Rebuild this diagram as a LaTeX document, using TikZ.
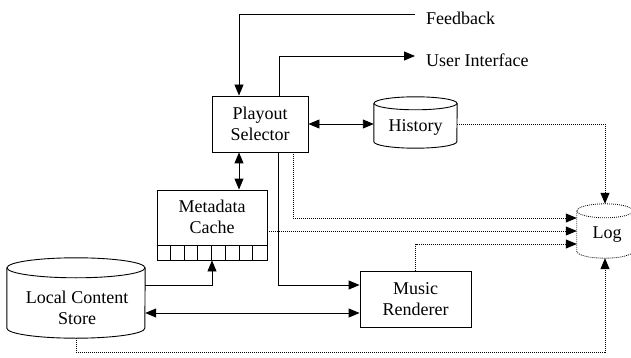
\documentclass[tikz,border=0pt]{standalone}
\usepackage{fontspec}
\setmainfont{Liberation Serif}
\newfontfamily\labelfont{Liberation Serif}
\usetikzlibrary{arrows.meta,calc}

% drum outline around a frame node: #1 options, #2 node, #3 x radius, #4 y radius
\newcommand{\drum}[4][]{%
  \draw[#1] ($(#2.north west)+(0,#4)$) -- ($(#2.south west)-(0,#4)$)
     arc[start angle=180,end angle=0,x radius=#3,y radius=#4]
     -- ($(#2.north east)+(0,#4)$);
  \draw[#1] ($(#2.north)+(0,#4)$) ellipse[x radius=#3,y radius=#4];
}

\begin{document}
\begin{tikzpicture}[x=1pt,y=-1pt,
  every node/.style={font=\labelfont\fontsize{18}{21}\selectfont, align=center, inner sep=0pt},
  solidline/.style={line width=0.9pt},
  dotline/.style={line width=0.8pt, dash pattern=on 0.9pt off 1.1pt},
  arr/.style={-{Triangle[length=11pt,width=9pt]}},
  darr/.style={{Triangle[length=11pt,width=9pt]}-{Triangle[length=11pt,width=9pt]}}]
\useasboundingbox (0,0) rectangle (631,358);

% blocks
\node[draw, solidline, minimum width=96, minimum height=56] (ps) at (260,124) {Playout\\Selector};
\node[draw, solidline, minimum width=110, minimum height=70] (mc) at (212,225) {};
\node (mctxt) at (212,217) {Metadata\\Cache};
\node[draw, solidline, minimum width=111, minimum height=56] (mr) at (415.5,299) {Music\\Renderer};

% stores
\node[minimum width=83, minimum height=51] (hist) at (415.5,122.5) {};
\node (histtxt) at (415.5,127) {History};
\node[minimum width=138, minimum height=80] (lcs) at (76,298) {};
\node (lcstxt) at (77,308) {Local Content\\Store};
\node[minimum width=56, minimum height=54] (log) at (605,231) {};
\node (logtxt) at (607,235) {Log};

\drum[solidline]{hist}{41.5}{6.5}
\drum[solidline]{lcs}{69}{10}
\drum[dotline]{log}{28}{7}

% cache slots
\draw[solidline] ($(mc.south west)+(0,-15)$) -- ($(mc.south east)+(0,-15)$);
\foreach \i in {1,...,7}
  \draw[solidline] ($(mc.south west)+(\i*13.75,0)$) -- ++(0,-15);

% attachment points
\coordinate (fbend) at (415,14);
\coordinate (uiend) at (415,56);
\coordinate (bot) at (0,352);
\coordinate (psfb) at ($(ps.north)+(-21,0)$);
\coordinate (psui) at ($(ps.north)+(19,0)$);
\coordinate (psmc) at ($(ps.south)+(-21,0)$);
\coordinate (psmr) at ($(ps.south)+(18,0)$);
\coordinate (pslog) at ($(ps.south)+(33,0)$);
\coordinate (mrup) at ($(mr.west)+(0,-14)$);
\coordinate (mrdown) at ($(mr.west)+(0,14)$);
\coordinate (logup) at ($(log.west)+(0,-13)$);
\coordinate (logdown) at ($(log.west)+(0,13)$);

\node[anchor=west] (fbtxt) at (426,18) {Feedback};
\node[anchor=west] (uitxt) at (426,60) {User Interface};

% solid connectors
\draw[solidline, arr] (fbend) -| (psfb);
\draw[solidline, arr] (psui) |- (uiend);
\draw[solidline, darr] (ps.east) -- (ps.east -| hist.west);
\draw[solidline, darr] (psmc) -- (psmc |- mc.north);
\draw[solidline, arr] (psmr) |- (mrup);
\draw[solidline, arr] (lcs.east |- mrup) -| (mc.south);
\draw[solidline, darr] (lcs.east |- mrdown) -- (mrdown);

% dotted connectors into the log
\draw[dotline, arr] (ps.east -| hist.east) -| (log.north);
\draw[dotline, arr] (pslog) |- (logup);
\draw[dotline, arr] (mc.east |- log.west) -- (log.west);
\draw[dotline, arr] (mr.north) |- (logdown);
\draw[dotline, arr] (lcs.south) -- (lcs.south |- bot) -| (log.south);
\end{tikzpicture}
\end{document}
